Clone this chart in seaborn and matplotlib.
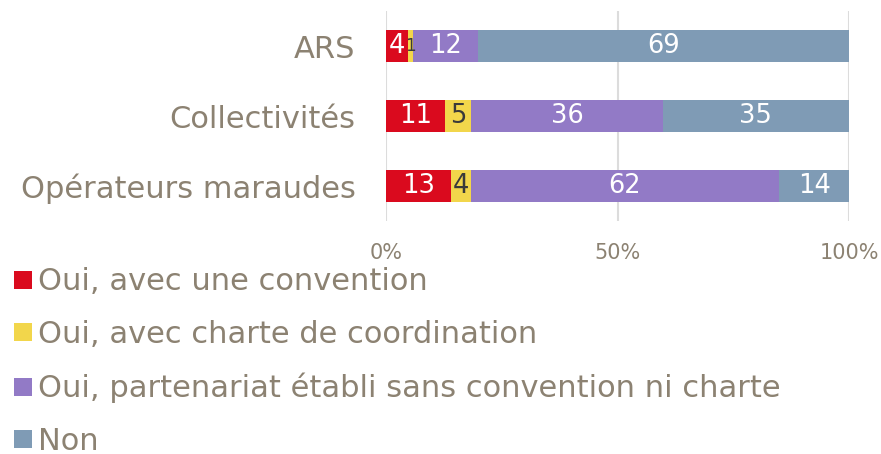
import numpy as np
import pandas as pd
import matplotlib
matplotlib.use("Agg")
import matplotlib.pyplot as plt
from matplotlib.lines import Line2D
import seaborn as sns

# Survey results: partnership type by actor (counts, shown as share of each row)
categories = ["ARS", "Collectivités", "Opérateurs maraudes"]
series_names = [
    "Oui, avec une convention",
    "Oui, avec charte de coordination",
    "Oui, partenariat établi sans convention ni charte",
    "Non",
]
convention = [4, 11, 13]
charte = [1, 5, 4]
sans_convention = [12, 36, 62]
non = [69, 35, 14]
tick_labels = ["0%", "50%", "100%"]

colors = ["#DA0A1E", "#F2D64B", "#927AC6", "#7F9BB5"]
label_colors = ["white", "#3A3A3A", "white", "white"]
text_color = "#8C8272"
grid_color = "#DCDCDC"

sns.set_theme(style="white")
plt.rcParams["font.family"] = ["DejaVu Sans"]

counts = np.array([convention, charte, sans_convention, non], dtype=float)
shares = counts / counts.sum(axis=0) * 100
cum = np.cumsum(shares, axis=0)

fig = plt.figure(figsize=(8.81, 4.54), dpi=100)
ax = fig.add_axes([386 / 881, 1 - 221 / 454, (849 - 386) / 881, 210 / 454])

# Stacked bars: draw cumulative totals from the outermost layer inward
for i in range(len(series_names) - 1, -1, -1):
    df = pd.DataFrame({"cat": categories, "val": cum[i]})
    sns.barplot(data=df, x="val", y="cat", orient="h", color=colors[i],
                saturation=1, width=0.46, ax=ax, zorder=3, linewidth=0)

# Segment value labels
for i in range(len(series_names)):
    for j in range(len(categories)):
        left = cum[i, j] - shares[i, j]
        small = counts[i, j] <= 2
        ax.text(left + shares[i, j] / 2, j, f"{int(counts[i, j])}",
                ha="center", va="center", color=label_colors[i],
                fontsize=12 if small else 18.5, zorder=4)

ax.set_xlim(0, 100)
ax.set_ylim(2.5, -0.5)
ax.set_xticks([0, 50, 100])
ax.set_xticklabels(tick_labels)
ax.xaxis.grid(True, color=grid_color, linewidth=1.5, zorder=0)
ax.set_xlabel("")
ax.set_ylabel("")
for s in ax.spines.values():
    s.set_visible(False)
ax.tick_params(axis="x", length=0, pad=16, labelsize=15, labelcolor=text_color)
ax.tick_params(axis="y", length=0, pad=22, labelsize=22, labelcolor=text_color)

handles = [Line2D([0], [0], marker="s", linestyle="none", markersize=13,
                  markerfacecolor=c, markeredgewidth=0) for c in colors]
fig.legend(handles, series_names, loc="upper left",
           bbox_to_anchor=(0.014, 1 - 267.5 / 454), frameon=False,
           fontsize=22, labelcolor=text_color, handletextpad=0.12,
           labelspacing=0.775, borderaxespad=0, handlelength=0.73,
           borderpad=0)

fig.savefig("out.png", dpi=100)
